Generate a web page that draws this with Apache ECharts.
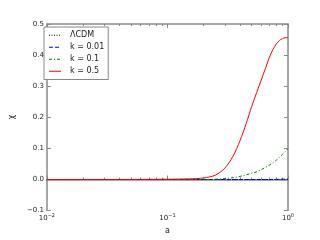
<!DOCTYPE html>
<html>
<head>
<meta charset="utf-8">
<script src="https://cdn.jsdelivr.net/npm/echarts@6/dist/echarts.min.js"></script>
<style>html,body{margin:0;padding:0;background:#fff}#c{width:320px;height:240px}</style>
</head>
<body>
<div id="c"></div>
<script>
// Scale factor a (log axis) and chi values
var aValues = [0.01, 0.02, 0.05, 0.1, 0.15, 0.2, 0.25, 0.3, 0.35, 0.4, 0.45, 0.5, 0.55, 0.6, 0.65, 0.7, 0.75, 0.8, 0.85, 0.9, 0.95, 1.0];
var chiLCDM  = [0, 0, 0, 0, 0, 0, 0, 0, 0, 0, 0, 0, 0, 0, 0, 0, 0, 0, 0, 0, 0, 0];
var chiK001  = [0, 0, 0, 0, 0, 0, 0, 0, 0, 0, 0, 0, 0, 0, 0, 0, 0.0005, 0.0006, 0.0008, 0.001, 0.0012, 0.0015];
var chiK01   = [0, 0, 0, 0, 0, 0, 0.001, 0.003, 0.006, 0.01, 0.015, 0.02, 0.025, 0.032, 0.039, 0.046, 0.054, 0.062, 0.072, 0.081, 0.09, 0.099];
var chiK05   = [0, 0, 0, 0.001, 0.002, 0.005, 0.014, 0.037, 0.075, 0.125, 0.18, 0.235, 0.28, 0.32, 0.357, 0.392, 0.418, 0.436, 0.447, 0.453, 0.456, 0.456];
var seriesNames = ['\u039BCDM', 'k = 0.01', 'k = 0.1', 'k = 0.5'];
var xMajorTicks = [0.01, 0.1, 1];
var xMinorTicks = [0.02,0.03,0.04,0.05,0.06,0.07,0.08,0.09,0.2,0.3,0.4,0.5,0.6,0.7,0.8,0.9];

var colors = ['#000000', '#0000ff', '#008000', '#ff0000'];
var dashes = [[1, 1.5], [4, 2], [3, 2, 1, 2], [12, 0]];

function pairs(v){ return aValues.map(function(a,i){ return [a, v[i]]; }); }
var axisCol = '#8a8a8a';
var font = 'DejaVu Sans';

// legend icon: a 12-unit-long line drawn as filled segments following the dash pattern
function iconPath(d){
  var p = '', x = 0, k = 0;
  while (x < 12) {
    var on = d[k % d.length], off = d[(k + 1) % d.length];
    var x2 = Math.min(12, x + on);
    p += 'M' + x + ',0L' + x2 + ',0L' + x2 + ',1L' + x + ',1Z';
    x = x2 + off; k += 2;
  }
  p += 'M12,0L12,1L12,1Z';
  return 'path://' + p;
}

function xAx(pos, major, labels){
  return {
    type: 'log', logBase: 10, min: 0.01, max: 1, position: pos,
    axisLine: {show: major, lineStyle: {color: axisCol, width: 1.5}},
    axisTick: {show: true, inside: true, length: major ? 4 : 2, customValues: major ? xMajorTicks : xMinorTicks, lineStyle: {color: axisCol, width: 1}},
    axisLabel: {show: labels, customValues: xMajorTicks, margin: 3, fontFamily: font,
      formatter: function(v){ var e = Math.round(Math.log10(v)); return '{b|10}{s|' + (e < 0 ? '\u2212' + (-e) : e) + '}'; },
      rich: {b: {fontSize: 7, fontFamily: font, color: '#222'}, s: {fontSize: 5, fontFamily: font, color: '#222', verticalAlign: 'top', padding: [0,0,5,0]}}},
    splitLine: {show: false},
    name: labels ? 'a' : '', nameLocation: 'middle', nameGap: 15,
    nameTextStyle: {fontSize: 8, fontFamily: font, color: '#222'}
  };
}
function yAx(pos, labels){
  return {
    type: 'value', min: -0.1, max: 0.5, interval: 0.1, position: pos,
    axisLine: {show: true, lineStyle: {color: axisCol, width: 1.5}},
    axisTick: {show: true, inside: true, length: 4, lineStyle: {color: axisCol, width: 1}},
    axisLabel: {show: labels, margin: 3, fontSize: 7, fontFamily: font, color: '#222',
      formatter: function(v){ return v.toFixed(1).replace('-', '\u2212'); }},
    splitLine: {show: false},
    name: labels ? '\u03C7' : '', nameLocation: 'middle', nameGap: 18, nameRotate: 90,
    nameTextStyle: {fontSize: 8, fontFamily: font, color: '#222'}
  };
}

var chart = echarts.init(document.getElementById('c'), null, {renderer: 'canvas'});
chart.setOption({
  animation: false,
  backgroundColor: '#fff',
  grid: {left: 40, right: 32, top: 24, bottom: 24},
  xAxis: [xAx('bottom', true, true), xAx('bottom', false, false), xAx('top', true, false), xAx('top', false, false)],
  yAxis: [yAx('left', true), yAx('right', false)],
  legend: {
    left: 44, top: 27, orient: 'vertical', backgroundColor: '#fff',
    borderColor: '#888', borderWidth: 1, borderRadius: 0, padding: [4, 4, 4, 5],
    itemWidth: 12, itemHeight: 1.5, itemGap: 3.5,
    textStyle: {fontSize: 8, fontFamily: font, color: '#222', padding: [0, 0, 0, 4], lineHeight: 8.5},
    data: seriesNames.map(function(n, i){
      return {name: n, icon: iconPath(dashes[i]), itemStyle: {color: colors[i], borderWidth: 0, opacity: 1}};
    })
  },
  series: seriesNames.map(function(n, i){
    var vals = [chiLCDM, chiK001, chiK01, chiK05][i];
    return {name: n, type: 'line', data: pairs(vals), symbol: 'none', smooth: 0.3,
      lineStyle: {color: colors[i], width: 1, type: dashes[i][1] === 0 ? 'solid' : dashes[i]}, itemStyle: {color: colors[i]}};
  })
});
</script>
</body>
</html>
